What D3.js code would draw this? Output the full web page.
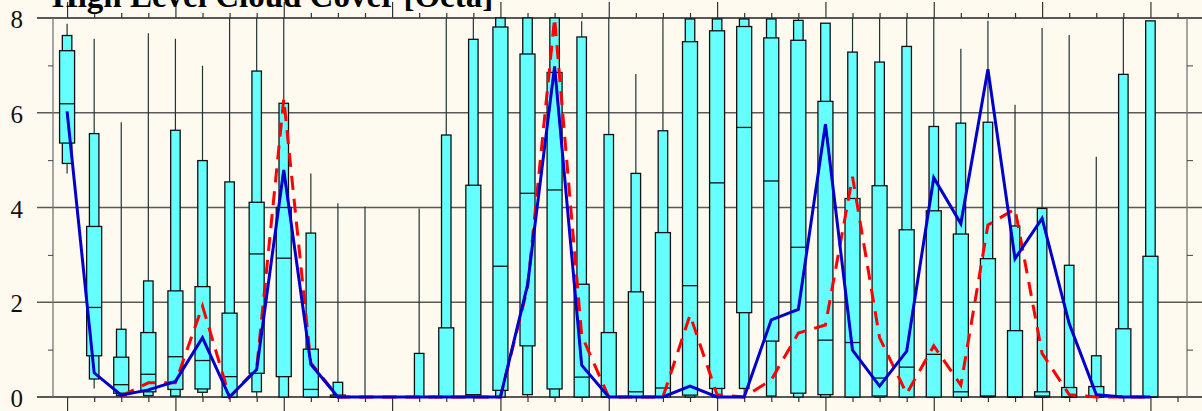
<!DOCTYPE html>
<html>
<head>
<meta charset="utf-8">
<script src="https://cdn.jsdelivr.net/npm/d3@7"></script>
<style>
html,body{margin:0;padding:0;background:#fffaf0;}
svg{display:block;}
</style>
</head>
<body>
<svg id="chart" width="1202" height="411"></svg>
<script>
const title = "High Level Cloud Cover [Octa]";
const steps = d3.range(41);
const yTicks = [0,1,2,3,4,5,6,7,8];

const whiskerLow = [4.72,0.18,0,0,0,0,0,0,0,0, 0,0,0,0,0,0,0,0,0,0, 0,0,0,0,0,0,0,0,0,0, 0,0,0,0,0,0,0,0,0,0, 0];
const p10 = [4.93,0.38,0.03,0.03,0.02,0.10,0,0.11,0,0, 0,0,0,0,0,0,0,0.05,0,0, 0,0,0,0,0,0.18,0.02,0,0,0, 0,0,0,0,0,0,0,0,0,0, 0];
const p25 = [5.36,0.87,0.08,0.11,0.16,0.17,0,0.50,0.43,0, 0,0,0,0,0,0.02,0.14,1.08,0.17,0, 0,0,0,0.04,0.18,1.78,1.18,0.08,0.05,0, 0.02,0,0,0,0.01,0,0,0,0,0, 0];
const median = [6.19,1.89,0.26,0.48,0.85,0.77,0.43,3.02,2.93,0.16, 0,0,0,0,0,0.05,2.76,4.30,4.37,0.42, 0,0.11,0.19,2.35,4.52,5.69,4.56,3.16,1.20,1.15, 0.40,0.63,0.90,0.11,0.02,0,0.02,0,0,0, 0];
const p75 = [7.31,3.60,0.84,1.36,2.24,2.33,1.77,4.11,4.00,1.01, 0.04,0,0,0,1.46,4.47,7.81,7.24,6.85,2.38, 1.36,2.22,3.47,7.50,7.73,7.82,7.58,7.53,6.24,4.19, 4.46,3.53,3.93,3.44,2.92,1.40,0.11,0.20,0.22,1.44, 2.97];
const p90 = [7.63,5.56,1.43,2.45,5.63,4.99,4.54,6.88,6.20,3.46, 0.31,0,0,0.92,5.53,7.55,8.0,8.0,8.0,7.60, 5.54,4.72,5.62,7.98,7.98,7.98,7.98,7.95,7.89,7.28, 7.07,7.40,5.71,5.78,5.80,3.61,3.98,2.78,0.87,6.81, 7.94];
const whiskerHigh = [7.88,7.56,5.80,7.68,7.56,6.99,8.0,8.0,8.0,4.72, 4.09,4.02,0,3.98,8.0,8.0,8.0,8.0,8.0,7.93, 8.0,6.82,8.0,8.0,8.0,8.0,8.0,8.0,7.89,8.0, 8.0,8.0,8.0,7.35,7.94,6.17,7.79,7.64,5.07,8.0, 7.94];
const blueLine = [6.03,0.51,0.04,0.15,0.33,1.25,0,0.58,4.79,0.69, 0,0,0,0,0,0,0,2.36,6.98,0.67, 0,0,0,0.23,0,0,1.63,1.85,5.76,0.99, 0.23,0.97,4.63,3.66,6.92,2.92,3.77,1.55,0.05,0, 0];
const redLine = [null,null,0.02,0.30,0.30,1.92,0,0.60,6.29,0.72, 0,0,0,0,0,0,0,2.30,8.0,1.30, 0,0,0,1.73,0.05,0,0.36,1.35,1.52,4.65, 1.25,0.07,1.08,0.25,3.63,3.97,0.92,0.05,0,0, 0];

const svg = d3.select("#chart");
const W = 1202, H = 411;
const x = d3.scaleLinear().domain([-0.52, 41.35]).range([53, 1187]);
const y = d3.scaleLinear().domain([0, 8]).range([397, 18]);

svg.append("rect").attr("width", W).attr("height", H).attr("fill", "#fffaf0");

const majorY = yTicks.filter(d => d % 2 === 0);
const minorY = yTicks.filter(d => d % 2 === 1);
svg.append("g").selectAll("line").data(majorY).join("line")
  .attr("x1", 37).attr("x2", W)
  .attr("y1", d => y(d)).attr("y2", d => y(d))
  .attr("stroke", d => (d === 0 || d === 8) ? "#222" : "#5a5a5a")
  .attr("stroke-width", d => (d === 0 || d === 8) ? 1.3 : 1.4);

svg.append("line").attr("x1", 53).attr("x2", 53).attr("y1", y(8)).attr("y2", y(0)).attr("stroke", "#777").attr("stroke-width", 1.3);
svg.append("line").attr("x1", 1187).attr("x2", 1187).attr("y1", y(8)).attr("y2", y(0)).attr("stroke", "#777").attr("stroke-width", 1.3);

svg.append("g").attr("transform", "translate(53,0)")
  .call(d3.axisLeft(y).tickValues(minorY).tickSize(5).tickFormat("").tickSizeOuter(0))
  .call(g => g.select(".domain").remove())
  .call(g => g.selectAll("line").attr("stroke", "#444"));
svg.append("g").attr("transform", "translate(1187,0)")
  .call(d3.axisRight(y).tickValues(minorY).tickSize(6).tickFormat("").tickSizeOuter(0))
  .call(g => g.select(".domain").remove())
  .call(g => g.selectAll("line").attr("stroke", "#444"));

svg.append("g").selectAll("text").data(majorY).join("text")
  .attr("x", 23).attr("y", d => y(d) + 10)
  .attr("text-anchor", "end")
  .attr("font-family", "'Liberation Serif', 'Times New Roman', serif")
  .attr("font-size", 25)
  .attr("fill", "#111")
  .text(d => d);

const tickIdx = d3.range(42);
const majorX = tickIdx.filter(d => d % 4 === 0);
const minorX = tickIdx.filter(d => d % 4 !== 0);
function xTicks(axisFn, yPos, vals, size) {
  svg.append("g").attr("transform", `translate(0,${yPos})`)
    .call(axisFn(x).tickValues(vals).tickSize(size).tickFormat("").tickSizeOuter(0))
    .call(g => g.select(".domain").remove())
    .call(g => g.selectAll("line").attr("stroke", "#333").attr("stroke-width", 1.2));
}
xTicks(d3.axisTop, y(8), majorX, 16);
xTicks(d3.axisTop, y(8), minorX, 5);
xTicks(d3.axisBottom, y(0), majorX, 14);
xTicks(d3.axisBottom, y(0), minorX, 5);

const data = steps.map(i => ({
  i, lo: whiskerLow[i], p10: p10[i], p25: p25[i], med: median[i], p75: p75[i], p90: p90[i], hi: whiskerHigh[i]
}));
const narrowW = 9.5, wideW = 15;
const boxes = svg.append("g");
const bg = boxes.selectAll("g").data(data).join("g");
bg.append("line")
  .attr("x1", d => x(d.i)).attr("x2", d => x(d.i))
  .attr("y1", d => y(d.lo)).attr("y2", d => y(d.hi))
  .attr("stroke", "#1f3535").attr("stroke-width", 1.2);
bg.filter(d => d.p90 > d.p10).append("rect")
  .attr("x", d => x(d.i) - narrowW / 2).attr("width", narrowW)
  .attr("y", d => y(d.p90)).attr("height", d => y(d.p10) - y(d.p90))
  .attr("fill", "#66ffff").attr("stroke", "#111").attr("stroke-width", 1.3);
bg.filter(d => d.p75 > d.p25).append("rect")
  .attr("x", d => x(d.i) - wideW / 2).attr("width", wideW)
  .attr("y", d => y(d.p75)).attr("height", d => y(d.p25) - y(d.p75))
  .attr("fill", "#66ffff").attr("stroke", "#111").attr("stroke-width", 1.3);
bg.filter(d => d.p75 > d.p25).append("line")
  .attr("x1", d => x(d.i) - wideW / 2).attr("x2", d => x(d.i) + wideW / 2)
  .attr("y1", d => y(d.med)).attr("y2", d => y(d.med))
  .attr("stroke", "#111").attr("stroke-width", 1.3);

const lineGen = d3.line().defined(d => d.v !== null).x(d => x(d.i)).y(d => y(d.v));
svg.append("path")
  .datum(steps.map(i => ({i, v: redLine[i]})))
  .attr("d", lineGen)
  .attr("fill", "none").attr("stroke", "#ff0000").attr("stroke-width", 3)
  .attr("stroke-dasharray", "14,9");
svg.append("path")
  .datum(steps.map(i => ({i, v: blueLine[i]})))
  .attr("d", lineGen)
  .attr("fill", "none").attr("stroke", "#0000cc").attr("stroke-width", 3);

svg.append("text")
  .attr("x", 52).attr("y", 7)
  .attr("font-family", "'Liberation Serif', 'Times New Roman', serif")
  .attr("font-weight", "bold")
  .attr("font-size", 33)
  .attr("fill", "#000")
  .text(title);
</script>
</body>
</html>
